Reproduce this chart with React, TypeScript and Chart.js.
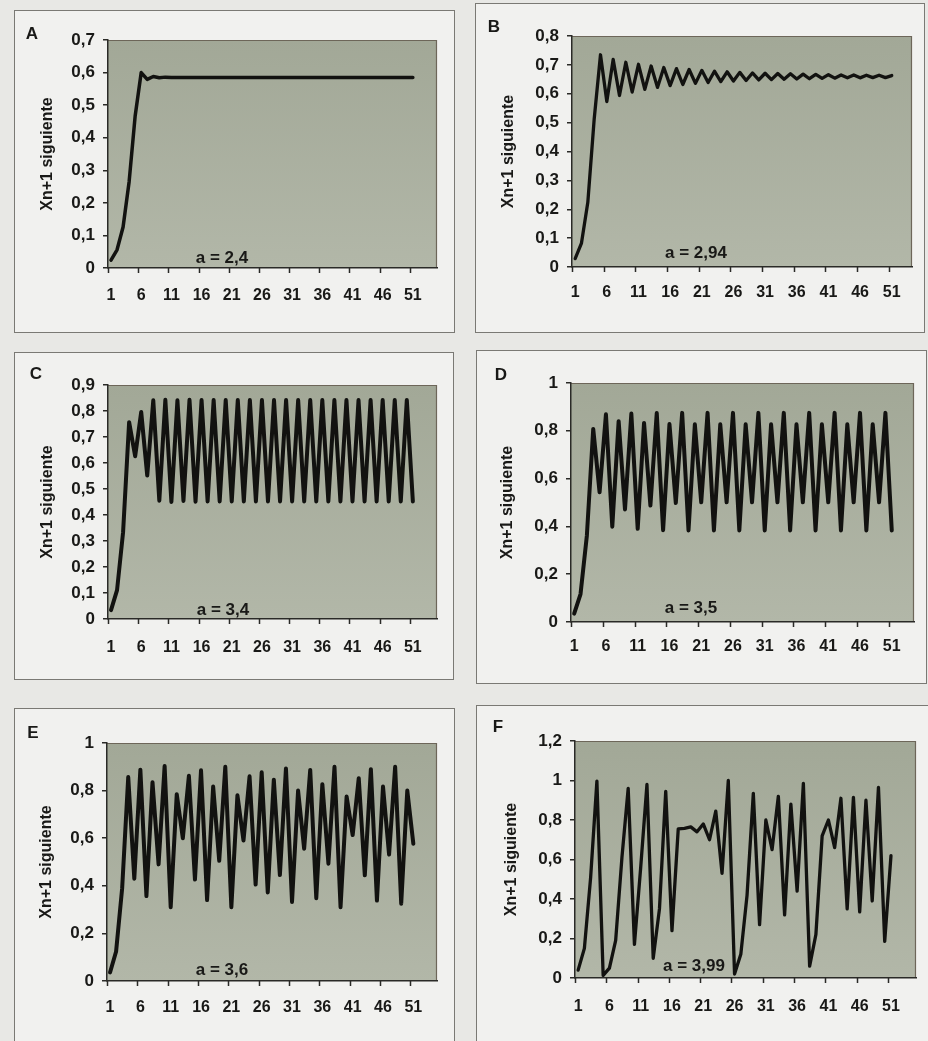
import { useEffect, useRef } from "react";
import { Chart, registerables } from "chart.js";

Chart.register(...registerables);

// ---------- data ----------
const CATEGORY_TICKS = [1, 6, 11, 16, 21, 26, 31, 36, 41, 46, 51];
const Y_TITLE = "Xn+1 siguiente";
const PANEL_LETTERS = ["A", "B", "C", "D", "E", "F"];
const PARAM_LABELS = ["a = 2,4", "a = 2,94", "a = 3,4", "a = 3,5", "a = 3,6", "a = 3,99"];

const Y_TICKS_A = [0, 0.1, 0.2, 0.3, 0.4, 0.5, 0.6, 0.7];
const Y_TICKS_B = [0, 0.1, 0.2, 0.3, 0.4, 0.5, 0.6, 0.7, 0.8];
const Y_TICKS_C = [0, 0.1, 0.2, 0.3, 0.4, 0.5, 0.6, 0.7, 0.8, 0.9];
const Y_TICKS_D = [0, 0.2, 0.4, 0.6, 0.8, 1];
const Y_TICKS_E = [0, 0.2, 0.4, 0.6, 0.8, 1];
const Y_TICKS_F = [0, 0.2, 0.4, 0.6, 0.8, 1, 1.2];

const SERIES_A = [
  0.024, 0.056, 0.126, 0.265, 0.467, 0.6, 0.579, 0.588, 0.584, 0.586,
  0.585, 0.585, 0.585, 0.585, 0.585, 0.585, 0.585, 0.585, 0.585, 0.585,
  0.585, 0.585, 0.585, 0.585, 0.585, 0.585, 0.585, 0.585, 0.585, 0.585,
  0.585, 0.585, 0.585, 0.585, 0.585, 0.585, 0.585, 0.585, 0.585, 0.585,
  0.585, 0.585, 0.585, 0.585, 0.585, 0.585, 0.585, 0.585, 0.585, 0.585,
  0.585,
];

const SERIES_B = [
  0.029, 0.083, 0.224, 0.511, 0.735, 0.573, 0.719, 0.594, 0.709, 0.606,
  0.702, 0.615, 0.696, 0.622, 0.691, 0.628, 0.687, 0.632, 0.684, 0.636,
  0.681, 0.639, 0.678, 0.642, 0.676, 0.644, 0.674, 0.646, 0.672, 0.648,
  0.671, 0.649, 0.67, 0.65, 0.669, 0.651, 0.668, 0.652, 0.667, 0.653,
  0.666, 0.654, 0.665, 0.655, 0.665, 0.655, 0.664, 0.656, 0.664, 0.656,
  0.663,
];

const SERIES_C = [
  0.034, 0.111, 0.334, 0.757, 0.626, 0.796, 0.552, 0.841, 0.455, 0.843,
  0.45, 0.841, 0.454, 0.843, 0.451, 0.842, 0.452, 0.842, 0.452, 0.842,
  0.452, 0.842, 0.452, 0.842, 0.452, 0.842, 0.452, 0.842, 0.452, 0.842,
  0.452, 0.842, 0.452, 0.842, 0.452, 0.842, 0.452, 0.842, 0.452, 0.842,
  0.452, 0.842, 0.452, 0.842, 0.452, 0.842, 0.452, 0.842, 0.452, 0.842,
  0.452,
];

const SERIES_D = [
  0.035, 0.117, 0.362, 0.808, 0.543, 0.869, 0.399, 0.84, 0.471, 0.872,
  0.39, 0.833, 0.487, 0.874, 0.384, 0.828, 0.498, 0.875, 0.383, 0.827,
  0.501, 0.875, 0.383, 0.827, 0.501, 0.875, 0.383, 0.827, 0.501, 0.875,
  0.383, 0.827, 0.501, 0.875, 0.383, 0.827, 0.501, 0.875, 0.383, 0.827,
  0.501, 0.875, 0.383, 0.827, 0.501, 0.875, 0.383, 0.827, 0.501, 0.875,
  0.383,
];

const SERIES_E = [
  0.036, 0.124, 0.39, 0.857, 0.43, 0.888, 0.357, 0.835, 0.49, 0.903,
  0.31, 0.785, 0.6, 0.862, 0.426, 0.885, 0.34, 0.817, 0.505, 0.9,
  0.31, 0.78, 0.59, 0.86, 0.405, 0.877, 0.372, 0.846, 0.445, 0.893,
  0.332, 0.8, 0.556, 0.887, 0.348, 0.827, 0.493, 0.9, 0.31, 0.775,
  0.613, 0.852, 0.444, 0.89, 0.338, 0.817, 0.531, 0.9, 0.325, 0.8,
  0.577,
];

const SERIES_F = [
  0.04, 0.15, 0.51, 0.997, 0.013, 0.05, 0.19, 0.61, 0.96, 0.17,
  0.56, 0.98, 0.1, 0.35, 0.945, 0.24, 0.755, 0.758, 0.765, 0.74,
  0.78, 0.7, 0.845, 0.53, 1.0, 0.02, 0.12, 0.42, 0.935, 0.27,
  0.8, 0.65, 0.92, 0.32, 0.88, 0.44, 0.985, 0.06, 0.22, 0.72,
  0.8, 0.66, 0.91, 0.35, 0.915, 0.335, 0.9, 0.39, 0.965, 0.185,
  0.62,
];

const SERIES = [SERIES_A, SERIES_B, SERIES_C, SERIES_D, SERIES_E, SERIES_F];
const Y_TICKS = [Y_TICKS_A, Y_TICKS_B, Y_TICKS_C, Y_TICKS_D, Y_TICKS_E, Y_TICKS_F];

// ---------- layout & style ----------
type PanelLayout = {
  box: [number, number, number, number];
  plot: [number, number, number, number];
  xRange: [number, number];
  titleCenterX: number;
  xLabelOffset: number;
  letterPos: [number, number];
  paramPos: [number, number];
  lineWidth: number;
};

const LAYOUT: PanelLayout[] = [
  { box: [14, 10, 455, 333], plot: [108, 40, 437, 268], xRange: [0.5, 55.0], titleCenterX: 48, xLabelOffset: 28, letterPos: [32, 33], paramPos: [222, 258], lineWidth: 3.5 },
  { box: [475, 3, 925, 333], plot: [572, 36, 912, 267], xRange: [0.5, 54.2], titleCenterX: 509, xLabelOffset: 26, letterPos: [494, 26], paramPos: [696, 253], lineWidth: 3.3 },
  { box: [14, 352, 454, 680], plot: [108, 385, 437, 619], xRange: [0.5, 55.0], titleCenterX: 48, xLabelOffset: 29, letterPos: [36, 373], paramPos: [223, 610], lineWidth: 4 },
  { box: [476, 350, 927, 684], plot: [571, 383, 914, 622], xRange: [0.5, 54.5], titleCenterX: 508, xLabelOffset: 25, letterPos: [501, 374], paramPos: [691, 608], lineWidth: 4 },
  { box: [14, 708, 455, 1060], plot: [107, 743, 437, 981], xRange: [0.5, 54.9], titleCenterX: 47, xLabelOffset: 27, letterPos: [33, 732], paramPos: [222, 970], lineWidth: 4 },
  { box: [476, 705, 935, 1060], plot: [575, 741, 916, 978], xRange: [0.5, 55.0], titleCenterX: 512, xLabelOffset: 29, letterPos: [498, 726], paramPos: [694, 966], lineWidth: 3.3 },
];

const FONT_FAMILY = '"Liberation Sans", Arial, Helvetica, sans-serif';
const TEXT_COLOR = "#191917";
const LINE_COLOR = "#121210";
const AXIS_COLOR = "#2a2a27";
const PLOT_BORDER = "#6d6659";
const PLOT_TOP = "#a2a897";
const PLOT_BOTTOM = "#b2b7a8";
const PAGE_BG = "#e8e8e5";
const BOX_BG = "#f1f1ef";
const BOX_BORDER = "#7a7974";

function formatComma(v: number): string {
  return String(Number(v.toFixed(2))).replace(".", ",");
}

function Panel({ index }: { index: number }) {
  const ref = useRef<HTMLCanvasElement>(null);
  const L = LAYOUT[index];
  const [bl, bt, br, bb] = L.box;
  const [pl, pt, pr, pb] = L.plot;
  const w = br - bl;
  const h = bb - bt;

  useEffect(() => {
    const canvas = ref.current;
    if (!canvas) return;
    const values = SERIES[index];
    const yTicks = Y_TICKS[index];

    const decor = {
      id: "panelDecor",
      beforeDraw(chart: any) {
        const { ctx, chartArea: a } = chart;
        ctx.save();
        const g = ctx.createLinearGradient(0, a.top, 0, a.bottom);
        g.addColorStop(0, PLOT_TOP);
        g.addColorStop(1, PLOT_BOTTOM);
        ctx.fillStyle = g;
        ctx.fillRect(a.left, a.top, a.right - a.left, a.bottom - a.top);
        ctx.strokeStyle = PLOT_BORDER;
        ctx.lineWidth = 1.2;
        ctx.beginPath();
        ctx.moveTo(a.left, a.top + 0.5);
        ctx.lineTo(a.right - 0.5, a.top + 0.5);
        ctx.lineTo(a.right - 0.5, a.bottom);
        ctx.stroke();
        ctx.restore();
      },
      afterDraw(chart: any) {
        const { ctx, chartArea: a } = chart;
        const xs = chart.scales.x;
        ctx.save();
        ctx.strokeStyle = AXIS_COLOR;
        ctx.lineWidth = 1.5;
        ctx.beginPath();
        for (const t of CATEGORY_TICKS) {
          const x = Math.round(xs.getPixelForValue(t - 0.5)) + 0.5;
          ctx.moveTo(x, a.bottom);
          ctx.lineTo(x, a.bottom + 5);
        }
        ctx.stroke();
        ctx.fillStyle = TEXT_COLOR;
        ctx.font = `bold 17px ${FONT_FAMILY}`;
        ctx.textAlign = "center";
        ctx.textBaseline = "middle";
        ctx.fillText(PARAM_LABELS[index], L.paramPos[0] - bl, L.paramPos[1] - bt);
        ctx.restore();
      },
    };

    const chart = new Chart(canvas, {
      type: "line",
      data: {
        datasets: [
          {
            data: values.map((v, i) => ({ x: i + 1, y: v })),
            borderColor: LINE_COLOR,
            borderWidth: L.lineWidth,
            pointRadius: 0,
            tension: 0,
            borderJoinStyle: "round",
            borderCapStyle: "round",
            fill: false,
          },
        ],
      },
      options: {
        animation: false,
        responsive: false,
        devicePixelRatio: 1,
        events: [],
        layout: {
          padding: { left: 0, top: pt - bt, right: br - pr, bottom: 0 },
        },
        plugins: {
          legend: { display: false },
          tooltip: { enabled: false },
        },
        scales: {
          x: {
            type: "linear",
            min: L.xRange[0],
            max: L.xRange[1],
            afterFit: (scale: any) => {
              scale.height = bb - pb;
            },
            afterBuildTicks: (scale: any) => {
              scale.ticks = CATEGORY_TICKS.map((v) => ({ value: v }));
            },
            grid: { display: true, drawOnChartArea: false, drawTicks: false },
            border: { display: true, color: AXIS_COLOR, width: 1.5 },
            ticks: {
              padding: L.xLabelOffset - 9.6,
              color: TEXT_COLOR,
              font: { family: FONT_FAMILY, size: 16, weight: "bold" },
              maxRotation: 0,
              autoSkip: false,
              callback: (v: any) => String(v),
            },
          },
          y: {
            type: "linear",
            min: 0,
            max: yTicks[yTicks.length - 1],
            afterFit: (scale: any) => {
              scale.width = pl - bl;
            },
            afterBuildTicks: (scale: any) => {
              scale.ticks = yTicks.map((v) => ({ value: v }));
            },
            grid: {
              display: true,
              drawOnChartArea: false,
              drawTicks: true,
              tickLength: 5,
              color: AXIS_COLOR,
              lineWidth: 1.5,
            },
            border: { display: true, color: AXIS_COLOR, width: 1.5 },
            ticks: {
              padding: 8,
              color: TEXT_COLOR,
              font: { family: FONT_FAMILY, size: 17, weight: "bold" },
              autoSkip: false,
              callback: (v: any) => formatComma(Number(v)),
            },
            title: {
              display: true,
              text: Y_TITLE,
              color: TEXT_COLOR,
              font: { family: FONT_FAMILY, size: 16, weight: "bold" },
              padding: { top: L.titleCenterX - bl - 9.6, bottom: 0 },
            },
          },
        },
      },
      plugins: [decor],
    } as any);

    return () => {
      chart.destroy();
    };
  }, [index]);

  return (
    <>
      <div
        style={{
          position: "absolute",
          left: bl,
          top: bt,
          width: w,
          height: h,
          boxSizing: "border-box",
          border: `1px solid ${BOX_BORDER}`,
          background: BOX_BG,
        }}
      />
      <canvas
        ref={ref}
        width={w}
        height={h}
        style={{ position: "absolute", left: bl, top: bt, width: w, height: h, display: "block" }}
      />
      <div
        style={{
          position: "absolute",
          left: L.letterPos[0],
          top: L.letterPos[1],
          transform: "translate(-50%, -50%)",
          fontFamily: FONT_FAMILY,
          fontWeight: "bold",
          fontSize: 17,
          color: TEXT_COLOR,
          lineHeight: 1,
        }}
      >
        {PANEL_LETTERS[index]}
      </div>
    </>
  );
}

export default function App() {
  return (
    <div
      style={{
        position: "absolute",
        left: 0,
        top: 0,
        width: 928,
        height: 1041,
        overflow: "hidden",
        background: PAGE_BG,
      }}
    >
      {LAYOUT.map((_, i) => (
        <Panel key={i} index={i} />
      ))}
    </div>
  );
}
